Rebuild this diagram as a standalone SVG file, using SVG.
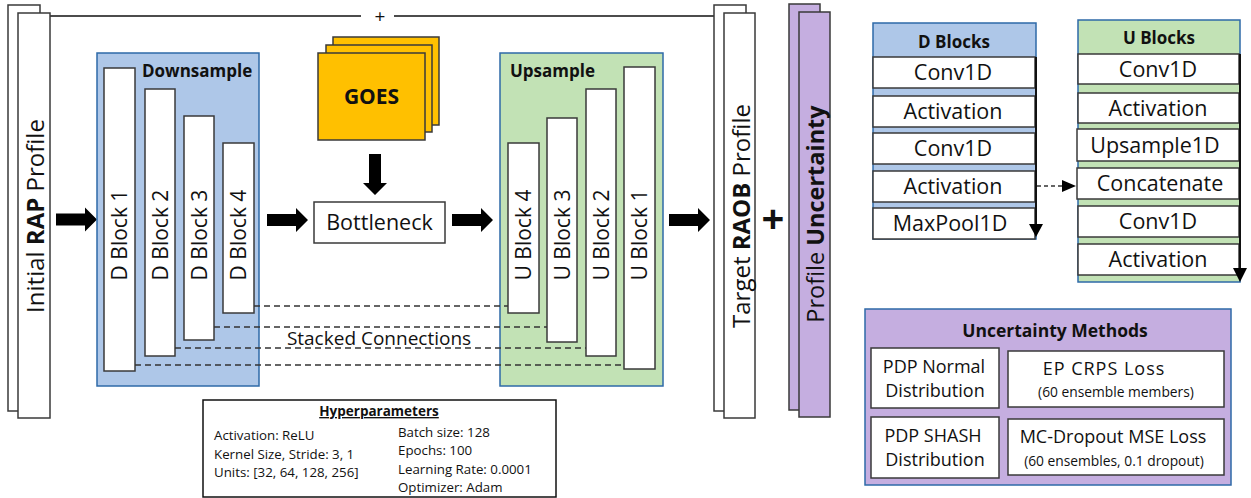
<svg xmlns="http://www.w3.org/2000/svg" width="1251" height="498" viewBox="0 0 1251 498">
<style>
text{font-family:"Open Sans","Noto Sans","Liberation Sans",sans-serif;fill:#111}
.w{fill:#fff;stroke:#3a3a3a;stroke-width:1.5}
.blue{fill:#aec7e8;stroke:#2e6aa8;stroke-width:1.5}
.green{fill:#c2e2b5;stroke:#2e6aa8;stroke-width:1.5}
.purple{fill:#c5aee0;stroke:#2e6aa8;stroke-width:1.5}
.pp{fill:#c5aee0;stroke:#3a3a3a;stroke-width:1.5}
.goes{fill:#ffc000;stroke:#3a3a3a;stroke-width:1.5}
.blk{font-size:21px}
.row{font-size:21.5px;text-anchor:middle}
.b{font-weight:bold}
.dash{stroke:#333;stroke-width:1.5;stroke-dasharray:6 4;fill:none}
.hp{font-size:13.3px}
.um{font-size:18px;text-anchor:middle}
.ums{font-size:13.8px;text-anchor:middle}
</style>
<defs>
<path id="barrow" d="M0,-6 H29 V-12 L41,0 L29,12 V6 H0 Z" fill="#000"/>
</defs>

<g id="connectors">
<line x1="50" y1="16" x2="361" y2="16" stroke="#111" stroke-width="1.5"/>
<line x1="394" y1="16" x2="714" y2="16" stroke="#111" stroke-width="1.5"/>
<use href="#barrow" x="56" y="219.5"/>
<use href="#barrow" x="267" y="220"/>
<use href="#barrow" x="452" y="220"/>
<use href="#barrow" x="669" y="220"/>
<use href="#barrow" transform="translate(375,154) rotate(90)"/>
</g>
<text x="380" y="23" font-size="19" text-anchor="middle">+</text>

<g id="initial-rap">
<rect class="w" x="8" y="5" width="32" height="406"/>
<rect class="w" x="18" y="13" width="32" height="405"/>
<text transform="translate(34,216) rotate(-90)" y="10" font-size="24" text-anchor="middle">Initial <tspan class="b">RAP</tspan> Profile</text>
</g>

<g id="downsample">
<rect class="blue" x="97" y="53" width="162" height="333"/>
<text x="142" y="77" font-size="17" class="b">Downsample</text>
</g>
<g id="dblock1"><rect class="w" x="104" y="68" width="31" height="303"/><text class="blk" transform="translate(119.5,235) rotate(-90)" y="7.5" text-anchor="middle">D Block 1</text></g>
<g id="dblock2"><rect class="w" x="145" y="89" width="30" height="267"/><text class="blk" transform="translate(160,235) rotate(-90)" y="7.5" text-anchor="middle">D Block 2</text></g>
<g id="dblock3"><rect class="w" x="184" y="116" width="30" height="224"/><text class="blk" transform="translate(199,235) rotate(-90)" y="7.5" text-anchor="middle">D Block 3</text></g>
<g id="dblock4"><rect class="w" x="223" y="143" width="31" height="170"/><text class="blk" transform="translate(238.5,235) rotate(-90)" y="7.5" text-anchor="middle">D Block 4</text></g>

<g id="goes">
<rect class="goes" x="333" y="37" width="106" height="88"/>
<rect class="goes" x="326" y="45" width="106" height="87"/>
<rect class="goes" x="318" y="53" width="107" height="87"/>
<text x="371.5" y="104" font-size="21" class="b" text-anchor="middle">GOES</text>
</g>

<g id="bottleneck">
<rect class="w" x="314" y="202" width="131" height="41"/>
<text x="379.5" y="230" font-size="21.5" text-anchor="middle">Bottleneck</text>
</g>

<g id="upsample">
<rect class="green" x="500" y="53" width="163" height="333"/>
<text x="510" y="77" font-size="17" class="b">Upsample</text>
</g>
<g id="ublock4"><rect class="w" x="508" y="143" width="31" height="170"/><text class="blk" transform="translate(523.5,235) rotate(-90)" y="7.5" text-anchor="middle">U Block 4</text></g>
<g id="ublock3"><rect class="w" x="547" y="118" width="30" height="224"/><text class="blk" transform="translate(562,235) rotate(-90)" y="7.5" text-anchor="middle">U Block 3</text></g>
<g id="ublock2"><rect class="w" x="586" y="89" width="30" height="267"/><text class="blk" transform="translate(601,235) rotate(-90)" y="7.5" text-anchor="middle">U Block 2</text></g>
<g id="ublock1"><rect class="w" x="624" y="67" width="31" height="302"/><text class="blk" transform="translate(639.5,235) rotate(-90)" y="7.5" text-anchor="middle">U Block 1</text></g>

<g id="skip-connections">
<line class="dash" x1="254" y1="306" x2="508" y2="306"/>
<line class="dash" x1="214" y1="327" x2="547" y2="327"/>
<line class="dash" x1="175" y1="348" x2="586" y2="348"/>
<line class="dash" x1="135" y1="365" x2="624" y2="365"/>
<text x="379" y="345" font-size="19" text-anchor="middle">Stacked Connections</text>
</g>

<g id="hyperparameters">
<rect x="203" y="400" width="353" height="97" fill="#fff" stroke="#111" stroke-width="1.5"/>
<text x="379" y="416" font-size="13.5" class="b" text-anchor="middle" text-decoration="underline">Hyperparameters</text>
<text class="hp" x="214" y="440">Activation: ReLU</text>
<text class="hp" x="214" y="459">Kernel Size, Stride: 3, 1</text>
<text class="hp" x="214" y="477">Units: [32, 64, 128, 256]</text>
<text class="hp" x="398" y="437">Batch size: 128</text>
<text class="hp" x="398" y="455">Epochs: 100</text>
<text class="hp" x="398" y="474">Learning Rate: 0.0001</text>
<text class="hp" x="398" y="492">Optimizer: Adam</text>
</g>

<g id="target-raob">
<rect class="w" x="714" y="5" width="32" height="406"/>
<rect class="w" x="724" y="13" width="31" height="405"/>
<text transform="translate(740,216) rotate(-90)" y="10" font-size="24" text-anchor="middle">Target <tspan class="b">RAOB</tspan> Profile</text>
</g>

<text x="773" y="233" font-size="40" class="b" text-anchor="middle">+</text>

<g id="profile-uncertainty">
<rect class="pp" x="789" y="4" width="31" height="406"/>
<rect class="pp" x="799" y="12" width="31" height="405"/>
<text transform="translate(815,214) rotate(-90)" y="8.5" font-size="23.5" text-anchor="middle">Profile <tspan class="b">Uncertainty</tspan></text>
</g>

<g id="d-blocks">
<rect class="blue" x="873" y="23" width="163" height="216"/>
<text x="954" y="48" font-size="17" class="b" text-anchor="middle">D Blocks</text>
<rect class="w" x="873" y="57" width="162" height="31"/><text class="row" x="953" y="80">Conv1D</text>
<rect class="w" x="873" y="96" width="162" height="31"/><text class="row" x="953" y="119">Activation</text>
<rect class="w" x="873" y="133" width="162" height="31"/><text class="row" x="953" y="156">Conv1D</text>
<rect class="w" x="873" y="171" width="162" height="31"/><text class="row" x="953" y="194">Activation</text>
<rect class="w" x="873" y="208" width="162" height="31"/><text class="row" x="950" y="231">MaxPool1D</text>
<line x1="1036" y1="57" x2="1036" y2="226" stroke="#111" stroke-width="2"/>
<polygon points="1029,224 1043,224 1036,237" fill="#000"/>
</g>

<g id="u-blocks">
<rect class="green" x="1078" y="20" width="162" height="262"/>
<text x="1159" y="44" font-size="17" class="b" text-anchor="middle">U Blocks</text>
<rect class="w" x="1078" y="54" width="161" height="30"/><text class="row" x="1158" y="76.5">Conv1D</text>
<rect class="w" x="1078" y="93" width="161" height="30"/><text class="row" x="1158" y="115.5">Activation</text>
<rect class="w" x="1077" y="129" width="162" height="32"/><text class="row" x="1155" y="152.5">Upsample1D</text>
<rect class="w" x="1077" y="168" width="162" height="31"/><text class="row" x="1160" y="191">Concatenate</text>
<rect class="w" x="1078" y="206" width="161" height="31"/><text class="row" x="1158" y="229">Conv1D</text>
<rect class="w" x="1078" y="244" width="161" height="31"/><text class="row" x="1158" y="267">Activation</text>
<line x1="1240" y1="54" x2="1240" y2="270" stroke="#111" stroke-width="2"/>
<polygon points="1233,268 1247,268 1240,282" fill="#000"/>
</g>

<g id="d-to-u">
<line x1="1037" y1="186" x2="1062" y2="186" stroke="#333" stroke-width="1.3" stroke-dasharray="4 3"/>
<polygon points="1062,180 1062,192 1076,186" fill="#000"/>
</g>

<g id="uncertainty-methods">
<rect class="purple" x="865" y="309" width="366" height="176"/>
<text x="1055" y="337" font-size="17.5" class="b" text-anchor="middle">Uncertainty Methods</text>
<rect class="w" x="871" y="348" width="128" height="60"/>
<text class="um" x="934" y="373">PDP Normal</text>
<text class="um" x="935" y="397">Distribution</text>
<rect class="w" x="1008" y="351" width="216" height="56"/>
<text class="um" x="1104" y="375" font-size="19" letter-spacing="1">EP CRPS Loss</text>
<text class="ums" x="1116" y="397">(60 ensemble members)</text>
<rect class="w" x="871" y="417" width="128" height="61"/>
<text class="um" x="933" y="442">PDP SHASH</text>
<text class="um" x="935" y="466">Distribution</text>
<rect class="w" x="1008" y="419" width="216" height="56"/>
<text class="um" x="1113" y="443">MC-Dropout MSE Loss</text>
<text class="ums" x="1114" y="466">(60 ensembles, 0.1 dropout)</text>
</g>
</svg>
